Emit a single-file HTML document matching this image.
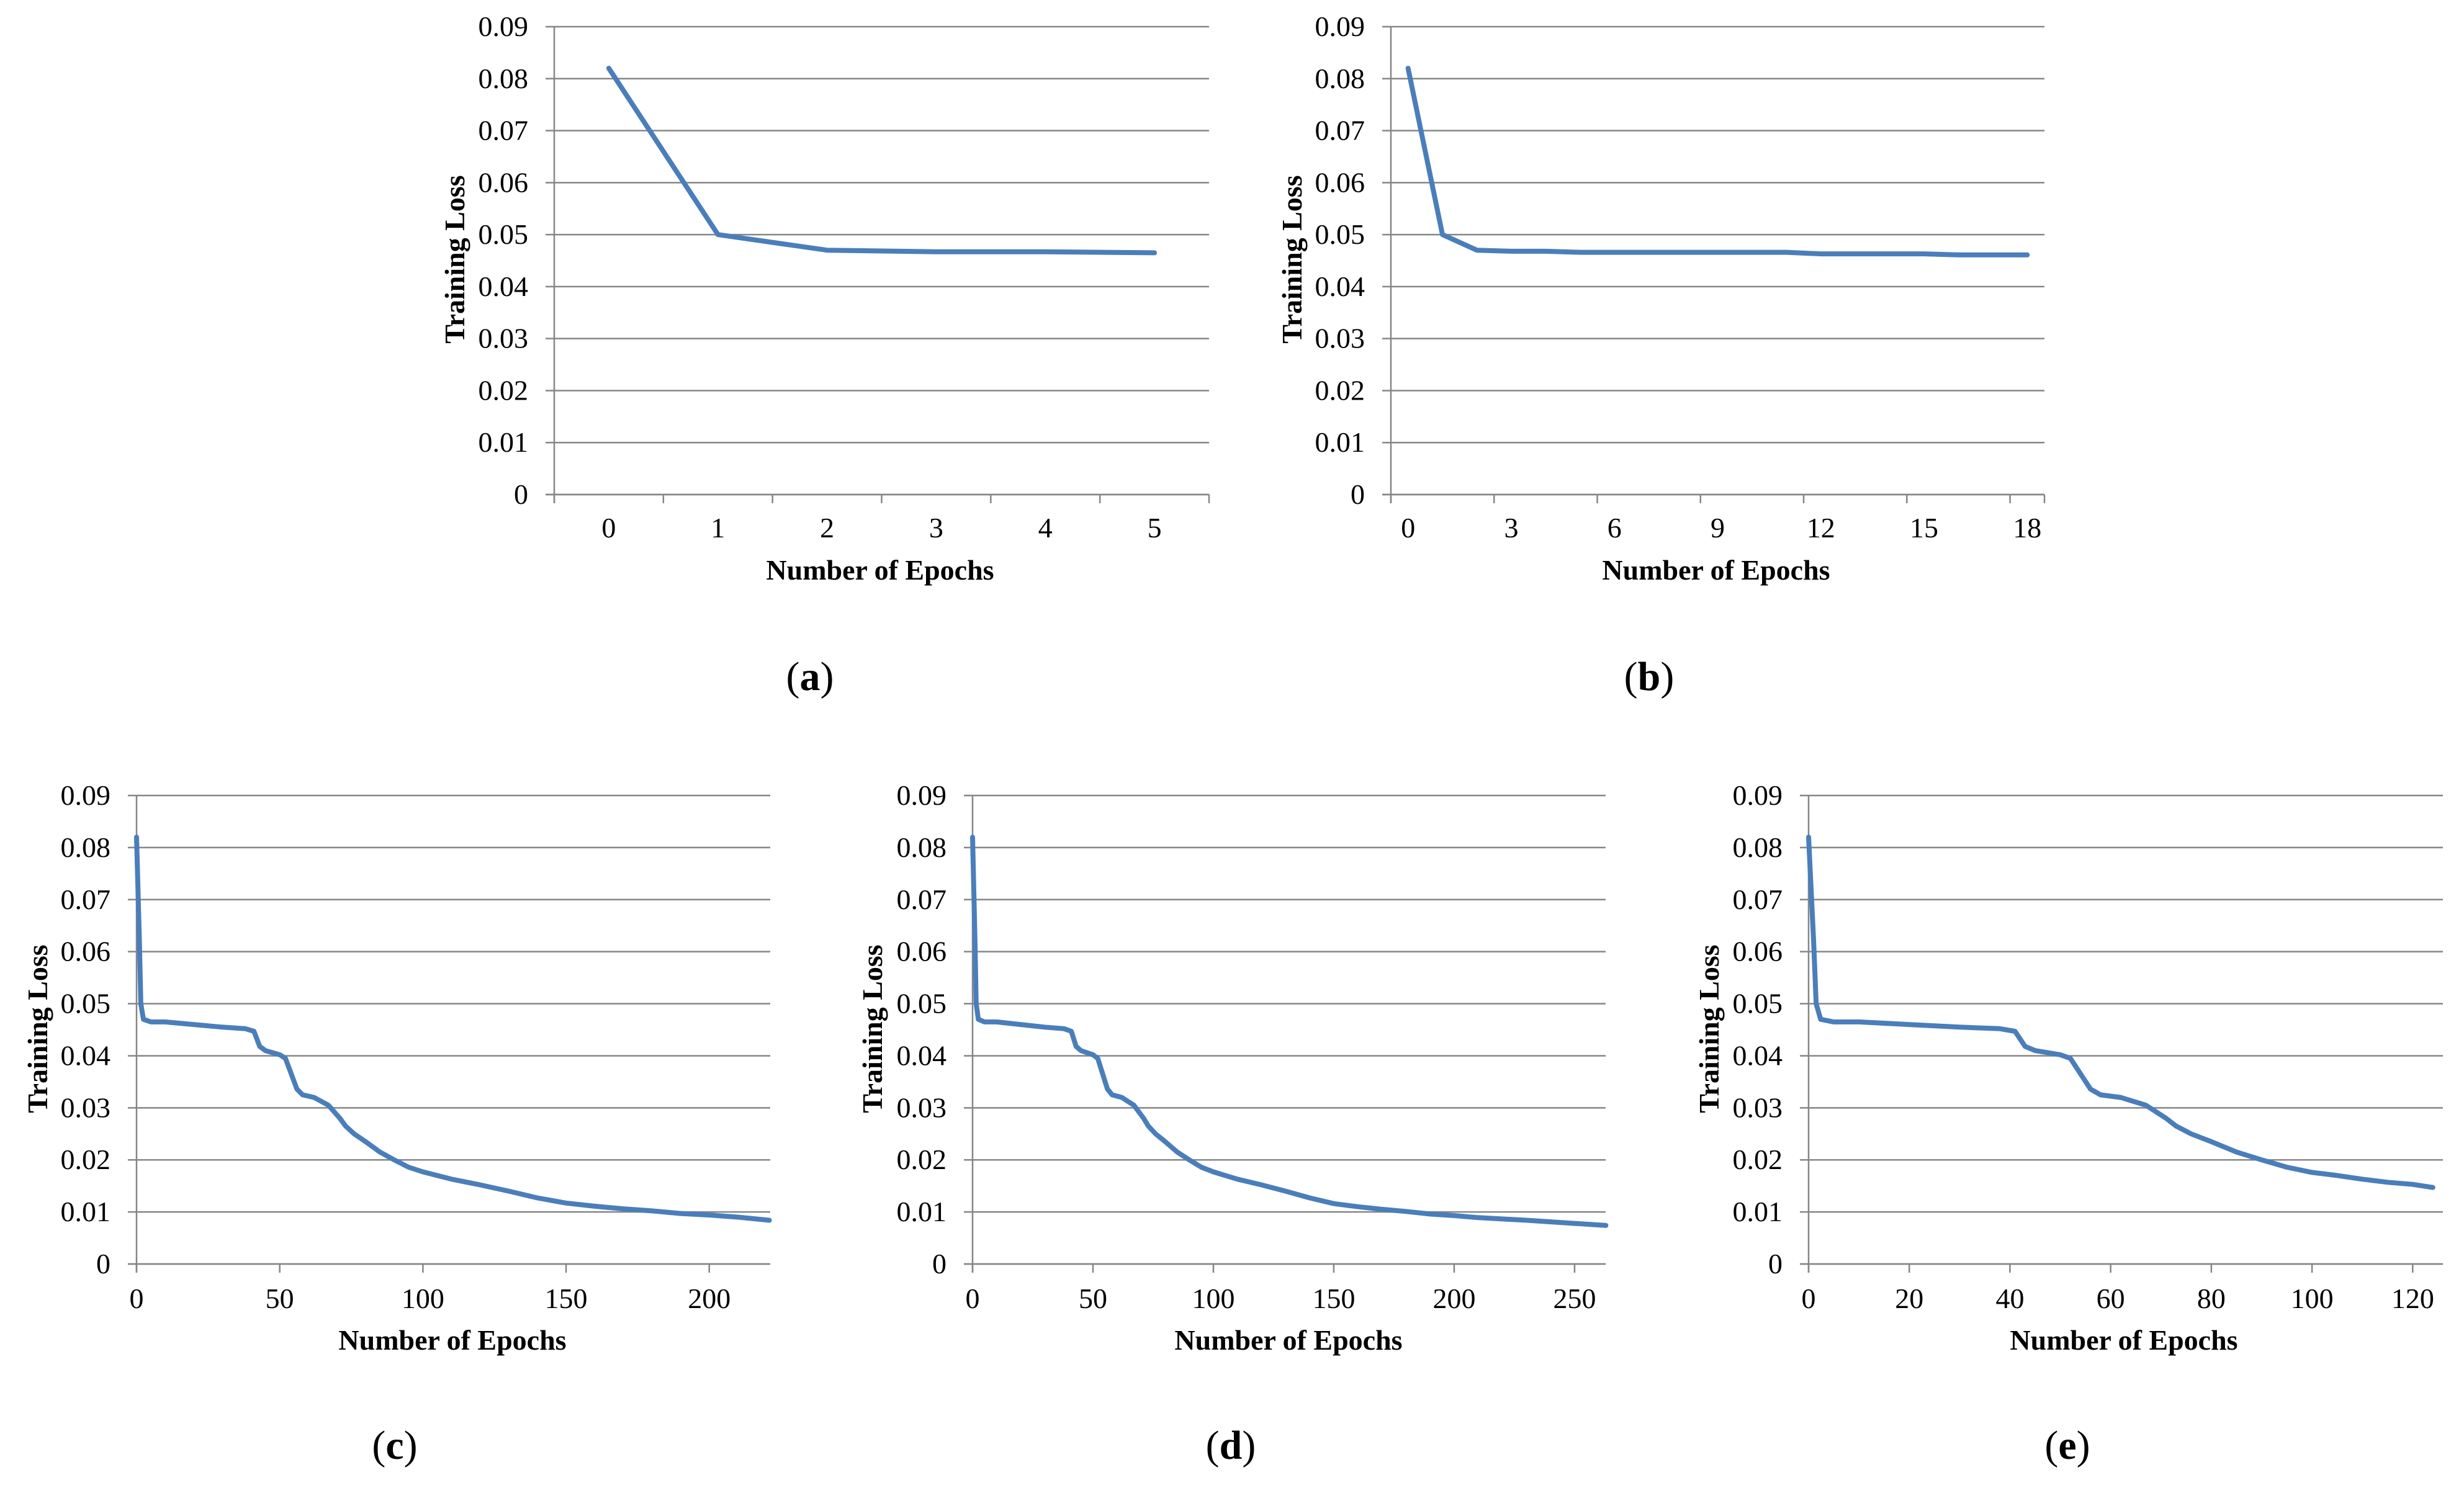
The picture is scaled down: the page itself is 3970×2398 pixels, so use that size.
<!DOCTYPE html>
<html><head><meta charset="utf-8">
<style>
html,body{margin:0;padding:0;background:#fff;}
svg{display:block;}
text{font-family:"Liberation Serif",serif;fill:#000;}
.tick{font-size:46px;}
.title{font-size:46px;font-weight:bold;}
.cap{font-size:66px;}
</style></head>
<body>
<svg id="fig" width="3970" height="2398" viewBox="0 0 3970 2398" xmlns="http://www.w3.org/2000/svg"></svg>
<script>
// Shared y-axis ticks
const yTicks = [0,0.01,0.02,0.03,0.04,0.05,0.06,0.07,0.08,0.09];
const yTickLabels = ["0","0.01","0.02","0.03","0.04","0.05","0.06","0.07","0.08","0.09"];

// Panel (a): categorical epochs 0..5
const aCategories = [0,1,2,3,4,5];
const aLoss = [0.082,0.050,0.047,0.0467,0.0467,0.0465];
// Panel (b): categorical epochs 0..18
const bCategories = [0,1,2,3,4,5,6,7,8,9,10,11,12,13,14,15,16,17,18];
const bLoss = [0.082,0.050,0.047,0.0468,0.0468,0.0466,0.0466,0.0466,0.0466,0.0466,0.0466,0.0466,0.0463,0.0463,0.0463,0.0463,0.0461,0.0461,0.0461];
const bTickLabels = ["0","3","6","9","12","15","18"];

// Panel (c)
const cEpochs = [0,1,1.5,2.4,5,10,20,30,38,41,43,45,50,52,56,58,62,67,71,73,76,80,85,90,95,100,105,110,120,130,140,150,160,170,180,190,200,210,221];
const cLoss = [0.082,0.062,0.050,0.047,0.0465,0.0465,0.046,0.0455,0.0452,0.0447,0.0418,0.041,0.0402,0.0395,0.0336,0.0325,0.032,0.0305,0.028,0.0265,0.025,0.0235,0.0215,0.02,0.0186,0.0177,0.017,0.0163,0.0152,0.014,0.0127,0.0117,0.0111,0.0106,0.0102,0.0097,0.0094,0.009,0.0084];
const cXTicks = [0,50,100,150,200];
// Panel (d)
const dEpochs = [0,1,1.5,2.4,5,10,20,30,38,41,43,45,50,52,56,58,62,67,71,73,76,80,85,90,95,100,105,110,120,130,140,150,160,170,180,190,200,210,230,250,263];
const dLoss = [0.082,0.062,0.050,0.047,0.0465,0.0465,0.046,0.0455,0.0452,0.0447,0.0418,0.041,0.0402,0.0395,0.0336,0.0325,0.032,0.0305,0.028,0.0265,0.025,0.0235,0.0215,0.02,0.0186,0.0177,0.017,0.0163,0.0152,0.014,0.0127,0.0116,0.011,0.0105,0.0101,0.0096,0.0093,0.0089,0.0084,0.0078,0.0074];
const dXTicks = [0,50,100,150,200,250];
// Panel (e)
const eEpochs = [0,1,1.5,2.4,5,10,20,30,38,41,43,45,50,52,56,58,62,67,71,73,76,80,85,90,95,100,105,110,115,120,124];
const eLoss = [0.082,0.062,0.050,0.047,0.0465,0.0465,0.046,0.0455,0.0452,0.0447,0.0418,0.041,0.0402,0.0395,0.0336,0.0325,0.032,0.0305,0.028,0.0265,0.025,0.0235,0.0215,0.02,0.0186,0.0176,0.017,0.0163,0.0157,0.0153,0.0147];
const eXTicks = [0,20,40,60,80,100,120];

const NS = "http://www.w3.org/2000/svg";
const svg = document.getElementById('fig');
function mk(tag, attrs, parent){ const e=document.createElementNS(NS,tag); for(const k in attrs) e.setAttribute(k,attrs[k]); (parent||svg).appendChild(e); return e; }

function panel(cfg){
  const g = mk('g',{});
  
  
  const yScale = v => cfg.bottom - v/0.09*(cfg.bottom-cfg.top);
  // gridlines + y labels
  yTicks.forEach((t,i)=>{
    const y = yScale(t);
    const ln = mk('line',{x1:cfg.left-14,x2:cfg.right,y1:y,y2:y,stroke:'#868686','stroke-width':2.5},g);
    
    
    const tx = mk('text',{x:cfg.left-42,y:y+15,'text-anchor':'end','class':'tick'},g);
    tx.textContent = yTickLabels[i];
    
    
  });
  const ax = mk('line',{x1:cfg.left,x2:cfg.left,y1:cfg.top,y2:cfg.bottom+14,stroke:'#868686','stroke-width':2.5},g);
  
  
  let xScale, pts=[];
  if(cfg.cats){
    const n = cfg.cats.length, w=(cfg.right-cfg.left)/n;
    xScale = i => cfg.left + (i+0.5)*w;
    for(let k=0;k<=n;k+=cfg.step){
      const x = cfg.left + k*w;
      const tk = mk('line',{x1:x,x2:x,y1:cfg.bottom,y2:cfg.bottom+14,stroke:'#868686','stroke-width':2.5},g);
      
      
    }
    if((n % cfg.step)!==0){
      const tk = mk('line',{x1:cfg.right,x2:cfg.right,y1:cfg.bottom,y2:cfg.bottom+14,stroke:'#868686','stroke-width':2.5},g);
      
      
    }
    let li=0;
    for(let i=0;i<n;i+=cfg.step){
      const tx = mk('text',{x:xScale(i),y:cfg.labelY,'text-anchor':'middle','class':'tick'},g);
      tx.textContent = cfg.xLabels ? cfg.xLabels[li++] : String(cfg.cats[i]);
      
      
    }
    cfg.vals.forEach((v,i)=>pts.push([xScale(i),yScale(v)]));
  } else {
    xScale = v => cfg.left + v/cfg.xmax*(cfg.right-cfg.left);
    cfg.xTicks.forEach(t=>{
      const x = xScale(t);
      const tk = mk('line',{x1:x,x2:x,y1:cfg.bottom,y2:cfg.bottom+14,stroke:'#868686','stroke-width':2.5},g);
      
      
      const tx = mk('text',{x:x,y:cfg.labelY,'text-anchor':'middle','class':'tick'},g);
      tx.textContent = String(t);
      
      
    });
    cfg.xs.forEach((x,i)=>pts.push([xScale(x),yScale(cfg.vals[i])]));
  }
  const bl = mk('line',{x1:cfg.left-14,x2:cfg.right,y1:cfg.bottom,y2:cfg.bottom,stroke:'#868686','stroke-width':2.5},g);
  
  
  const pl = mk('polyline',{points:pts.map(p=>p[0].toFixed(1)+','+p[1].toFixed(1)).join(' '),fill:'none',stroke:'#4a7ebb','stroke-width':8,'stroke-linejoin':'round','stroke-linecap':'round'},g);
  
  
  const xt = mk('text',{x:cfg.xtX,y:cfg.xtY+16,'text-anchor':'middle','class':'title'},g);
  xt.textContent = 'Number of Epochs';
  
  
  const yt = mk('text',{x:0,y:0,'text-anchor':'middle','class':'title',transform:'translate('+(cfg.ytX+16)+','+cfg.ytY+') rotate(-90)'},g);
  yt.textContent = 'Training  Loss';
  
  
  const cp = mk('text',{x:cfg.capX,y:cfg.capY+22,'text-anchor':'middle','class':'cap'},g);
  cp.innerHTML = '(<tspan font-weight="bold">'+cfg.id+'</tspan>)';
  
  
}

panel({id:'a',left:893,right:1948,top:43,bottom:797,cats:aCategories,vals:aLoss,step:1,labelY:866,xtX:1418,xtY:918,ytX:732,ytY:418,capX:1305,capY:1090});
panel({id:'b',left:2241,right:3294,top:43,bottom:797,cats:bCategories,vals:bLoss,step:3,xLabels:bTickLabels,labelY:866,xtX:2765,xtY:918,ytX:2081,ytY:418,capX:2657,capY:1090});
panel({id:'c',left:220,right:1241,top:1282,bottom:2037,xs:cEpochs,vals:cLoss,xmax:221.3,xTicks:cXTicks,labelY:2108,xtX:729,xtY:2159,ytX:60,ytY:1658,capX:636,capY:2329});
panel({id:'d',left:1567,right:2587,top:1282,bottom:2037,xs:dEpochs,vals:dLoss,xmax:262.9,xTicks:dXTicks,labelY:2108,xtX:2076,xtY:2159,ytX:1405,ytY:1658,capX:1983,capY:2329});
panel({id:'e',left:2914,right:3936,top:1282,bottom:2037,xs:eEpochs,vals:eLoss,xmax:126.0,xTicks:eXTicks,labelY:2108,xtX:3422,xtY:2159,ytX:2753,ytY:1658,capX:3331,capY:2329});
</script>
</body></html>
